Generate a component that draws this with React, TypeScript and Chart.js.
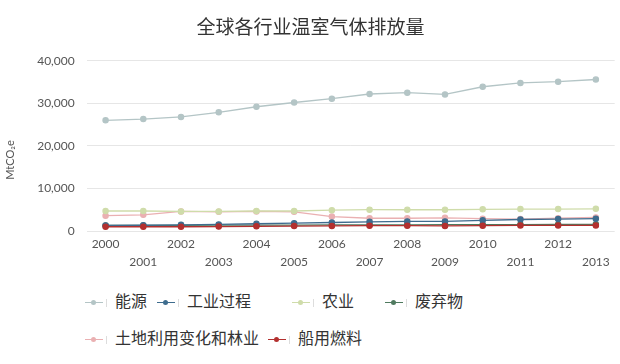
import React, { useEffect, useRef } from "react";
import { Chart, registerables } from "chart.js";

Chart.register(...registerables);

const years = ["2000","2001","2002","2003","2004","2005","2006","2007","2008","2009","2010","2011","2012","2013"];
const energy = [26000,26300,26800,27900,29200,30200,31100,32200,32500,32100,33900,34800,35100,35600];
const industry = [1300,1350,1450,1550,1700,1850,2000,2150,2250,2250,2500,2700,2800,2900];
const agriculture = [4700,4700,4600,4600,4700,4700,4900,5000,5000,5000,5100,5150,5150,5200];
const waste = [1300,1320,1340,1360,1380,1400,1420,1440,1460,1480,1500,1520,1540,1560];
const landUse = [3600,3800,4600,4500,4600,4500,3400,3000,3000,3100,2900,2800,3000,3200];
const bunker = [1000,1000,1000,1050,1100,1150,1200,1250,1250,1200,1250,1300,1300,1300];
const seriesNames = ["能源","工业过程","农业","废弃物","土地利用变化和林业","船用燃料"];
const seriesColors = ["#b4c5c6","#3e6c8e","#cfdcaa","#4f7a5f","#eab0b2","#b3302f"];
const yTicks = [0,10000,20000,30000,40000];

const FONT = "Lato, 'Noto Sans CJK SC', sans-serif";

export default function App() {
  const ref = useRef<HTMLCanvasElement>(null);
  useEffect(() => {
    const values = [energy, industry, agriculture, waste, landUse, bunker];
    const chart = new Chart(ref.current!, {
      type: "line",
      data: {
        labels: years,
        datasets: values.map((v, i) => ({
          label: seriesNames[i],
          data: v,
          borderColor: seriesColors[i],
          backgroundColor: seriesColors[i],
          pointBackgroundColor: seriesColors[i],
          pointBorderColor: seriesColors[i],
          pointRadius: 2.6,
          borderWidth: 1.3,
          tension: 0,
          order: i === 5 ? -1 : i,
        })),
      },
      options: {
        animation: false,
        responsive: false,
        maintainAspectRatio: false,
        layout: { padding: { left: 4, right: 3, top: 0, bottom: 0 } },
        plugins: {
          legend: { display: false },
          tooltip: { enabled: false },
          title: {
            display: true,
            text: "全球各行业温室气体排放量",
            color: "#333",
            font: { family: FONT, size: 19, weight: "normal" },
            padding: { top: 16, bottom: 22 },
          },
        },
        scales: {
          x: {
            offset: true,
            grid: { display: false },
            border: { display: false },
            ticks: {
              autoSkip: false,
              maxRotation: 0,
              minRotation: 0,
              color: "#555",
              padding: -4,
              font: { family: FONT, size: 12, lineHeight: 1.5 },
              callback: (_v: any, i: number) => (i % 2 === 0 ? [years[i], ""] : ["", years[i]]),
            },
          },
          y: {
            min: 0,
            max: 40000,
            afterBuildTicks: (axis: any) => {
              axis.ticks = yTicks.map((v) => ({ value: v }));
            },
            grid: { color: "#e6e6e6", drawTicks: false },
            border: { display: false },
            ticks: {
              color: "#555",
              padding: 12,
              font: { family: FONT, size: 12 },
              callback: (v: any) => Number(v).toLocaleString("en-US"),
            },
            title: {
              display: true,
              text: "MtCO₂e          ",
              color: "#555",
              font: { family: FONT, size: 11 },
              padding: { top: 0, bottom: 8 },
            },
          },
        },
      },
    });
    return () => chart.destroy();
  }, []);

  const marker = (c: string) => (
    <span style={{ position: "relative", display: "inline-block", width: 22, height: 10, marginRight: 8, verticalAlign: "middle" }}>
      <span style={{ position: "absolute", left: 0, top: 4, width: 18, height: 1.5, background: c }} />
      <span style={{ position: "absolute", left: 6, top: 2, width: 5, height: 5, borderRadius: 3, background: c }} />
      <span style={{ position: "absolute", left: 21, top: 1, width: 1, height: 8, background: "#ddd" }} />
    </span>
  );
  const row1Widths = [72, 135, 93, 110];
  const row2Widths = [183, 120];

  return (
    <div style={{ position: "absolute", left: 0, top: 0, width: 620, height: 364, background: "#fff" }}>
      <canvas ref={ref} width={620} height={267} style={{ display: "block" }} />
      <div style={{ position: "absolute", left: 85, top: 288, fontFamily: FONT, fontSize: 16, color: "#333" }}>
        <div style={{ display: "flex", height: 24, alignItems: "center" }}>
          {[0, 1, 2, 3].map((k, j) => (
            <div key={k} style={{ width: row1Widths[j], whiteSpace: "nowrap" }}>
              {marker(seriesColors[k])}
              {seriesNames[k]}
            </div>
          ))}
        </div>
        <div style={{ display: "flex", height: 24, marginTop: 13, alignItems: "center" }}>
          {[4, 5].map((k, j) => (
            <div key={k} style={{ width: row2Widths[j], whiteSpace: "nowrap" }}>
              {marker(seriesColors[k])}
              {seriesNames[k]}
            </div>
          ))}
        </div>
      </div>
    </div>
  );
}
